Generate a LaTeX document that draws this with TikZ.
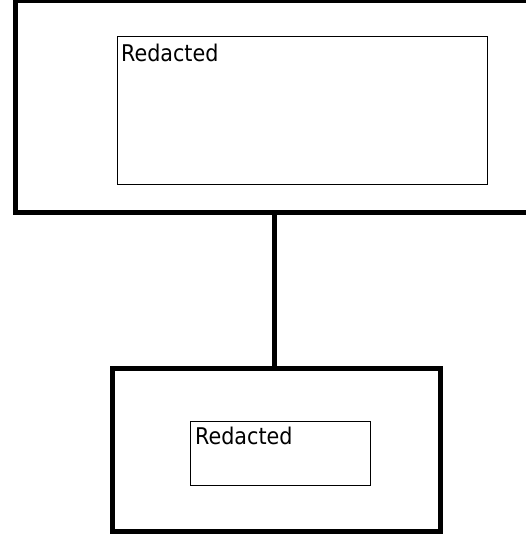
\documentclass[tikz,border=0pt]{standalone}
\usepackage{fontspec}
\newfontfamily\labelfont{DejaVu Sans Condensed}
\begin{document}
\begin{tikzpicture}[x=1pt,y=1pt,
  outerbox/.style={draw=black,line width=5pt,fill=none,inner sep=0pt},
  innerbox/.style={draw=black,line width=1.2pt,fill=none,inner sep=0pt},
  label/.style={font=\labelfont\fontsize{23}{26}\selectfont,inner sep=0pt,anchor=base west},
  link/.style={draw=black,line width=5pt}]
\useasboundingbox (0,0) rectangle (526,537);
% top outer box (extends beyond the right edge)
\node[outerbox,minimum width=527pt,minimum height=212pt,anchor=south west] (top) at (13,322) {};
\node[innerbox,minimum width=370pt,minimum height=148pt,anchor=south west] (topin) at (117,352) {};
\node[label] (toptext) at (121,475.5) {Redacted};
% bottom box
\node[outerbox,minimum width=328pt,minimum height=163pt,anchor=south west] (bot) at (110,2.5) {};
\node[innerbox,minimum width=180pt,minimum height=64pt,anchor=south west] (botin) at (190,51) {};
\node[label] (bottext) at (195,92) {Redacted};
% connector
\coordinate (c1) at (274,322);
\coordinate (c2) at (274,165.5);
\draw[link] (top.south -| c1) -- (bot.north -| c2);
\end{tikzpicture}
\end{document}
